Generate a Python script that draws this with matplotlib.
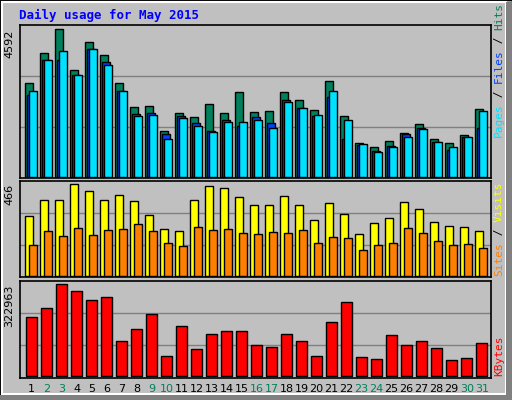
import matplotlib
matplotlib.use("Agg")
import matplotlib.pyplot as plt
from matplotlib.patches import Rectangle
import numpy as np

days = list(range(1, 32))
weekend = [2, 3, 9, 10, 16, 17, 23, 24, 30, 31]

hits = [2907, 3868, 4592, 3342, 4210, 3806, 2907, 2162, 2193, 1417, 1976, 1851, 2255, 1976, 2628, 2007,
        2038, 2628, 2380, 2069, 3000, 1882, 1043, 920, 1106, 1355, 1634, 1169, 1043, 1293, 2100]
files = [2544, 3651, 3651, 3164, 3971, 3590, 2668, 1945, 1976, 1324, 1882, 1665, 1417, 1758, 1572, 1851,
         1665, 2380, 2131, 1882, 2472, 1169, 982, 796, 951, 1324, 1510, 1075, 827, 1231, 1510]
pages = [2668, 3651, 3931, 3186, 3993, 3496, 2668, 1882, 1913, 1169, 1820, 1572, 1386, 1696, 1696, 1758,
         1510, 2317, 2131, 1913, 2659, 1758, 1013, 765, 920, 1231, 1479, 1075, 920, 1231, 2038]
visits = [303, 385, 385, 466, 430, 385, 410, 380, 308, 237, 227, 385, 456, 446, 400, 359,
          359, 405, 359, 283, 369, 313, 212, 268, 293, 374, 339, 273, 252, 247, 227]
sites = [156, 227, 202, 242, 207, 232, 237, 263, 227, 166, 151, 247, 232, 237, 217, 212,
         222, 217, 232, 166, 197, 191, 130, 156, 166, 242, 217, 176, 156, 161, 141]
kbytes = [205866, 237800, 322963, 298100, 266200, 276800, 120700, 163300, 216500, 67400, 173900, 92300,
          145500, 156200, 156200, 106500, 99400, 145500, 120700, 67400, 188100, 259100, 63900, 56800,
          142000, 106500, 120700, 95800, 53200, 60300, 113600]

W, H = 512, 400
bg = "#C0C0C0"
mono = "DejaVu Sans Mono"
fig = plt.figure(figsize=(W / 100, H / 100), dpi=100)
fig.patch.set_facecolor(bg)

# bevel frame
fig.add_artist(Rectangle((0, 0), 1, 1, transform=fig.transFigure, fill=False, ec="black", lw=1))
fig.add_artist(Rectangle((2 / W, 6 / H), (W - 8) / W, (H - 8) / H, transform=fig.transFigure,
                         fill=False, ec="white", lw=1.5))
fig.add_artist(Rectangle(((W - 6) / W, 0), 6 / W, (H - 2) / H, transform=fig.transFigure,
                         color="#808080", lw=0))
fig.add_artist(Rectangle((0, 0), (W - 2) / W, 5 / H, transform=fig.transFigure, color="#808080", lw=0))

fig.text(19 / W, 1 - 15 / H, "Daily usage for May 2015", color="#0000FF", fontsize=9,
         fontweight="bold", family=mono, va="center")

x = np.array(days)
x0, x1 = 20, 491


def make_ax(top, bottom, base, maxpix):
    ax = fig.add_axes([x0 / W, 1 - bottom / H, (x1 - x0) / W, (bottom - top) / H])
    ax.set_facecolor(bg)
    ax.set_xlim(0.28, 31.67)
    ax.set_xticks([])
    ax.set_yticks([])
    for s in ax.spines.values():
        s.set_linewidth(1.2)
    return ax


def setup_y(ax, vmax, top, bottom, base, maxpix):
    # value scale: vmax reaches pixel maxpix, zero at pixel base
    per = vmax / (base - maxpix)
    ax.set_ylim(-(bottom - base) * per, (base - top) * per)
    span = (bottom - top) * per
    lo = -(bottom - base) * per
    for f in (1 / 3, 2 / 3):
        ax.axhline(lo + span * f, color="#808080", lw=1, zorder=0)
    ax.text(-0.012, (maxpix - top) / (top - bottom) + 1, str(vmax), transform=ax.transAxes, rotation=90,
            ha="right", va="top", fontsize=8, family="DejaVu Sans")


bk = dict(edgecolor="black", linewidth=1)

ax1 = make_ax(25, 178, 177, 29.3)
ax1.bar(x - 0.39, hits, width=0.53, align="edge", color="#00805C", **bk)
ax1.bar(x - 0.24, files, width=0.5, align="edge", color="#0040FF", **bk)
ax1.bar(x - 0.1, pages, width=0.49, align="edge", color="#00E0FF", **bk)
setup_y(ax1, max(hits), 25, 178, 177, 29.3)

ax2 = make_ax(180.7, 277, 276, 184.3)
ax2.bar(x - 0.39, visits, width=0.55, align="edge", color="#FFFF00", **bk)
ax2.bar(x - 0.1, sites, width=0.49, align="edge", color="#FF8000", **bk)
setup_y(ax2, max(visits), 180.7, 277, 276, 184.3)

ax3 = make_ax(280.7, 377.7, 375.5, 284.3)
ax3.bar(x - 0.32, kbytes, width=0.71, align="edge", color="#FF0000", **bk)
setup_y(ax3, max(kbytes), 280.7, 377.7, 375.5, 284.3)

for d in days:
    ax3.text(d + 0.05, -0.07, str(d), transform=ax3.get_xaxis_transform(), ha="center", va="top",
             fontsize=8, color="#00805C" if d in weekend else "black")


def side_label(parts, ybot):
    y = ybot
    for txt, col in parts:
        t = fig.text(499 / W, 1 - y / H, txt, rotation=90, color=col, fontsize=8, family=mono,
                     ha="center", va="bottom")
        y -= len(txt) * 6.7


side_label([("Pages", "#00E0FF"), (" / ", "black"), ("Files", "#0040FF"), (" / ", "black"),
            ("Hits", "#00805C")], 137)
side_label([("Sites", "#FF8000"), (" / ", "black"), ("Visits", "#FFFF00")], 276)
side_label([("KBytes", "#FF0000")], 376)

fig.savefig("out.png", dpi=100, facecolor=bg)
